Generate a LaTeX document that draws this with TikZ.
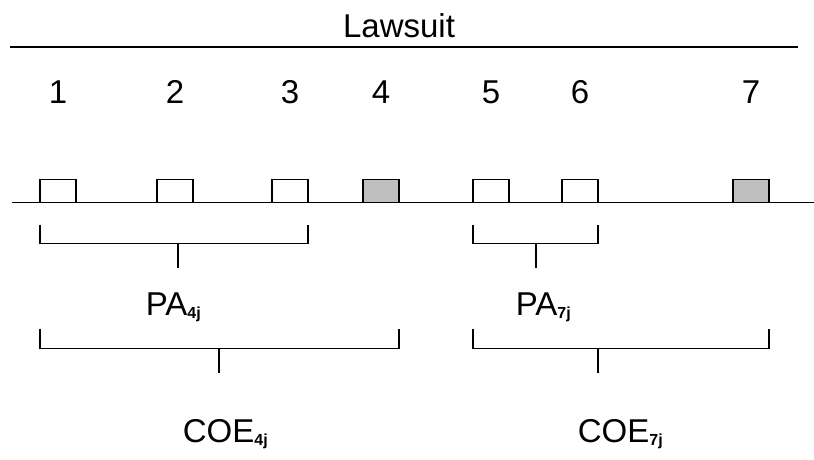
\documentclass[tikz,border=0pt]{standalone}
\usepackage{fontspec}
\setmainfont{Liberation Sans}
\usetikzlibrary{positioning,calc}
\newcommand{\sublbl}[1]{\raisebox{-3pt}{\fontsize{16}{16}\selectfont\bfseries #1}}

\begin{document}
\begin{tikzpicture}[x=1pt, y=-1pt, line width=1.8pt,
    slot/.style={draw, minimum width=36pt, minimum height=23pt, inner sep=0pt, outer sep=0pt, anchor=south west},
    big/.style={font=\fontsize{33}{33}\selectfont, inner sep=0pt}]
                \useasboundingbox (0,0) rectangle (814,459);

                % Lawsuit
                \node[big, anchor=base] (law) at (399,37) {Lawsuit};
                \draw (10,47) -- (798,47);

                % Time line
                \draw (12,202.5) -- (814,202.5);

                % Slots
                \node[slot] (b1) at (40,202.5) {};
                \node[slot] (b2) at (157,202.5) {};
                \node[slot] (b3) at (272,202.5) {};
                \node[slot, fill=gray!50] (b4) at (363,202.5) {};
                \node[slot] (b5) at (473,202.5) {};
                \node[slot] (b6) at (562,202.5) {};
                \node[slot, fill=gray!50] (b7) at (733,202.5) {};
                \foreach \i in {1,...,7}
                    \node[big, anchor=base] (n\i) at (b\i.center |- 0,103) {\i};

                % PA brackets
                \draw ($(b1.south west)+(0,22)$) -- ++(0,19) -| ($(b3.south east)+(0,22)$);
                \coordinate (pa4tick) at (178,243.5);
                \draw (pa4tick) -- ++(0,24.5);
                \node[big, anchor=base west] (pa4) at (145,315) {PA\sublbl{4j}};

                \draw ($(b5.south west)+(0,22)$) -- ++(0,19) -| ($(b6.south east)+(0,22)$);
                \coordinate (pa7tick) at (536,243.5);
                \draw (pa7tick) -- ++(0,24.5);
                \node[big, anchor=base west] (pa7) at (515,315) {PA\sublbl{7j}};

                % COE brackets
                \draw ($(b1.south west)+(0,126)$) -- ++(0,20) -| ($(b4.south east)+(0,126)$);
                \coordinate (coe4tick) at (219,348.5);
                \draw (coe4tick) -- ++(0,24.5);
                \node[big, anchor=base west] (coe4) at (182,442) {COE\sublbl{4j}};

                \draw ($(b5.south west)+(0,126)$) -- ++(0,20) -| ($(b7.south east)+(0,126)$);
                \coordinate (coe7tick) at (b6.south east |- 0,348.5);
                \draw (coe7tick) -- ++(0,24.5);
                \node[big, anchor=base west] (coe7) at (577,442) {COE\sublbl{7j}};
\end{tikzpicture}
\end{document}
